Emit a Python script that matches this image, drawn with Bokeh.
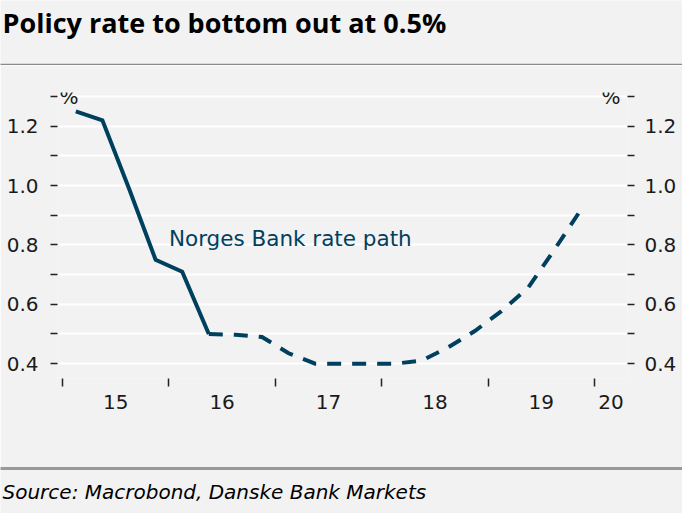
from bokeh.plotting import figure
from bokeh.models import (Range1d, LinearAxis, FixedTicker, CustomJSTickFormatter,
                          Label, Grid)
from bokeh.layouts import column
from bokeh.embed import file_html
from bokeh.resources import INLINE

# ---------------- data ----------------
title_text = "Policy rate to bottom out at 0.5%"
source_text = "Source: Macrobond, Danske Bank Markets"
series_label = "Norges Bank rate path"
unit_label = "%"

hist_quarters = ["2015Q1", "2015Q2", "2015Q3", "2015Q4", "2016Q1", "2016Q2"]
hist_rate = [1.25, 1.22, 0.99, 0.75, 0.71, 0.50]

path_quarters = ["2016Q2", "2016Q3", "2016Q4", "2017Q1", "2017Q2", "2017Q3",
                 "2017Q4", "2018Q1", "2018Q2", "2018Q3", "2018Q4", "2019Q1",
                 "2019Q2", "2019Q3", "2019Q4"]
path_rate = [0.50, 0.497, 0.49, 0.435, 0.40, 0.40,
             0.40, 0.40, 0.41, 0.455, 0.51, 0.577,
             0.655, 0.785, 0.92]

years = [2015, 2016, 2017, 2018, 2019, 2020]
year_labels = ["15", "16", "17", "18", "19", "20"]

y_ticks = [0.4, 0.5, 0.6, 0.7, 0.8, 0.9, 1.0, 1.1, 1.2, 1.3]
y_labels = ["0.4", "", "0.6", "", "0.8", "", "1.0", "", "1.2", ""]

x_start, x_end = 2014.953, 2020.31
y_start, y_end = 0.35, 1.3135

# ---------------- style ----------------
BG = "#f2f2f2"
NAVY = "#00405f"
TXT = "#1a1a1a"
W = 682


def qpos(q):
    return int(q[:4]) + (int(q[5]) - 0.5) / 4.0


hist_x = [qpos(q) for q in hist_quarters]
path_x = [qpos(q) for q in path_quarters]
# label positions: middle of each year (last one: middle of the visible part)
xlab_pos = [y + 0.5 for y in years[:-1]] + [(years[-1] + x_end) / 2.0]

# ---------------- title strip ----------------
pa = figure(width=W, height=65, x_range=Range1d(0, 1), y_range=Range1d(0, 1),
            output_backend="svg", toolbar_location=None, title=None,
            x_axis_type=None, y_axis_type=None, frame_align=False,
            min_border_left=0, min_border_right=0, min_border_top=0, min_border_bottom=1,
            background_fill_color=BG, border_fill_color=BG, outline_line_color=None)
rule_top = LinearAxis(ticker=FixedTicker(ticks=[]), axis_line_color="#8a8a8a",
                      axis_line_width=1.5, major_tick_line_color=None,
                      minor_tick_line_color=None, major_label_text_font_size="0px")
pa.add_layout(rule_top, "below")
pa.add_layout(Label(x=0, y=1, x_offset=2, y_offset=-22, text=title_text,
                    text_font="Open Sans", text_font_size="27px",
                    text_font_style="bold", text_color="black",
                    text_baseline="alphabetic", text_align="left"))

# ---------------- main chart ----------------
p = figure(width=W, height=402, x_range=Range1d(x_start, x_end),
           y_range=Range1d(y_start, y_end),
           output_backend="svg", toolbar_location=None,
           x_axis_type=None, y_axis_type=None, frame_align=False,
           min_border_left=57, min_border_right=55, min_border_top=27, min_border_bottom=89,
           background_fill_color=BG, border_fill_color=BG, outline_line_color=None)

yticker = FixedTicker(ticks=y_ticks)
yfmt = CustomJSTickFormatter(args=dict(labels=y_labels), code="return labels[index];")

p.add_layout(Grid(dimension=1, ticker=yticker, grid_line_color="white",
                  grid_line_width=2))

axis_style = dict(axis_line_color=None, major_tick_out=7, major_tick_in=0,
                  major_tick_line_color="#222222", major_tick_line_width=1.5,
                  minor_tick_line_color=None,
                  major_label_text_font="DejaVu Sans", major_label_text_font_size="20px",
                  major_label_text_color=TXT)
left = LinearAxis(ticker=yticker, formatter=yfmt, major_label_standoff=12, **axis_style)
right = LinearAxis(ticker=yticker, formatter=yfmt, major_label_standoff=10, **axis_style)
p.add_layout(left, "left")
p.add_layout(right, "right")

xticker = FixedTicker(ticks=xlab_pos, minor_ticks=years)
xfmt = CustomJSTickFormatter(args=dict(labels=year_labels), code="return labels[index];")
bottom = LinearAxis(ticker=xticker, formatter=xfmt, axis_line_color=None,
                    major_tick_out=0, major_tick_in=0, major_tick_line_color=None,
                    minor_tick_out=8, minor_tick_in=0, minor_tick_line_color="#222222",
                    minor_tick_line_width=1.5, major_label_standoff=8,
                    major_label_text_font="DejaVu Sans", major_label_text_font_size="20px",
                    major_label_text_color=TXT)
p.add_layout(bottom, "below")

p.line(hist_x, hist_rate, line_width=4, line_color=NAVY, line_join="miter")
p.line(path_x, path_rate, line_width=4, line_color=NAVY, line_dash="14 11",
       line_join="miter")

p.add_layout(Label(x=2016.0, y=0.8, y_offset=6, text=series_label, text_font="DejaVu Sans",
                   text_font_size="21.5px", text_color=NAVY, text_baseline="alphabetic"))
p.add_layout(Label(x=x_start, y=y_ticks[-1], x_offset=2, text=unit_label,
                   text_font="DejaVu Sans", text_font_size="20px", text_color=TXT,
                   text_baseline="middle", text_align="left"))
p.add_layout(Label(x=x_end, y=y_ticks[-1], x_offset=-7, text=unit_label,
                   text_font="DejaVu Sans", text_font_size="20px", text_color=TXT,
                   text_baseline="middle", text_align="right"))

# ---------------- source strip ----------------
pc = figure(width=W, height=46, x_range=Range1d(0, 1), y_range=Range1d(0, 1),
            output_backend="svg", toolbar_location=None, title=None,
            x_axis_type=None, y_axis_type=None, frame_align=False,
            min_border_left=0, min_border_right=0, min_border_top=1, min_border_bottom=0,
            background_fill_color=BG, border_fill_color=BG, outline_line_color=None)
rule_bot = LinearAxis(ticker=FixedTicker(ticks=[]), axis_line_color="#999999",
                      axis_line_width=3, major_tick_line_color=None,
                      minor_tick_line_color=None, major_label_text_font_size="0px")
pc.add_layout(rule_bot, "above")
pc.add_layout(Label(x=0, y=0, x_offset=2, y_offset=22, text=source_text,
                    text_font="DejaVu Sans", text_font_size="20px",
                    text_font_style="italic", text_color="black",
                    text_baseline="alphabetic", text_align="left"))

layout = column(pa, p, pc, spacing=0)

open("out.html", "w").write(file_html(layout, INLINE))
